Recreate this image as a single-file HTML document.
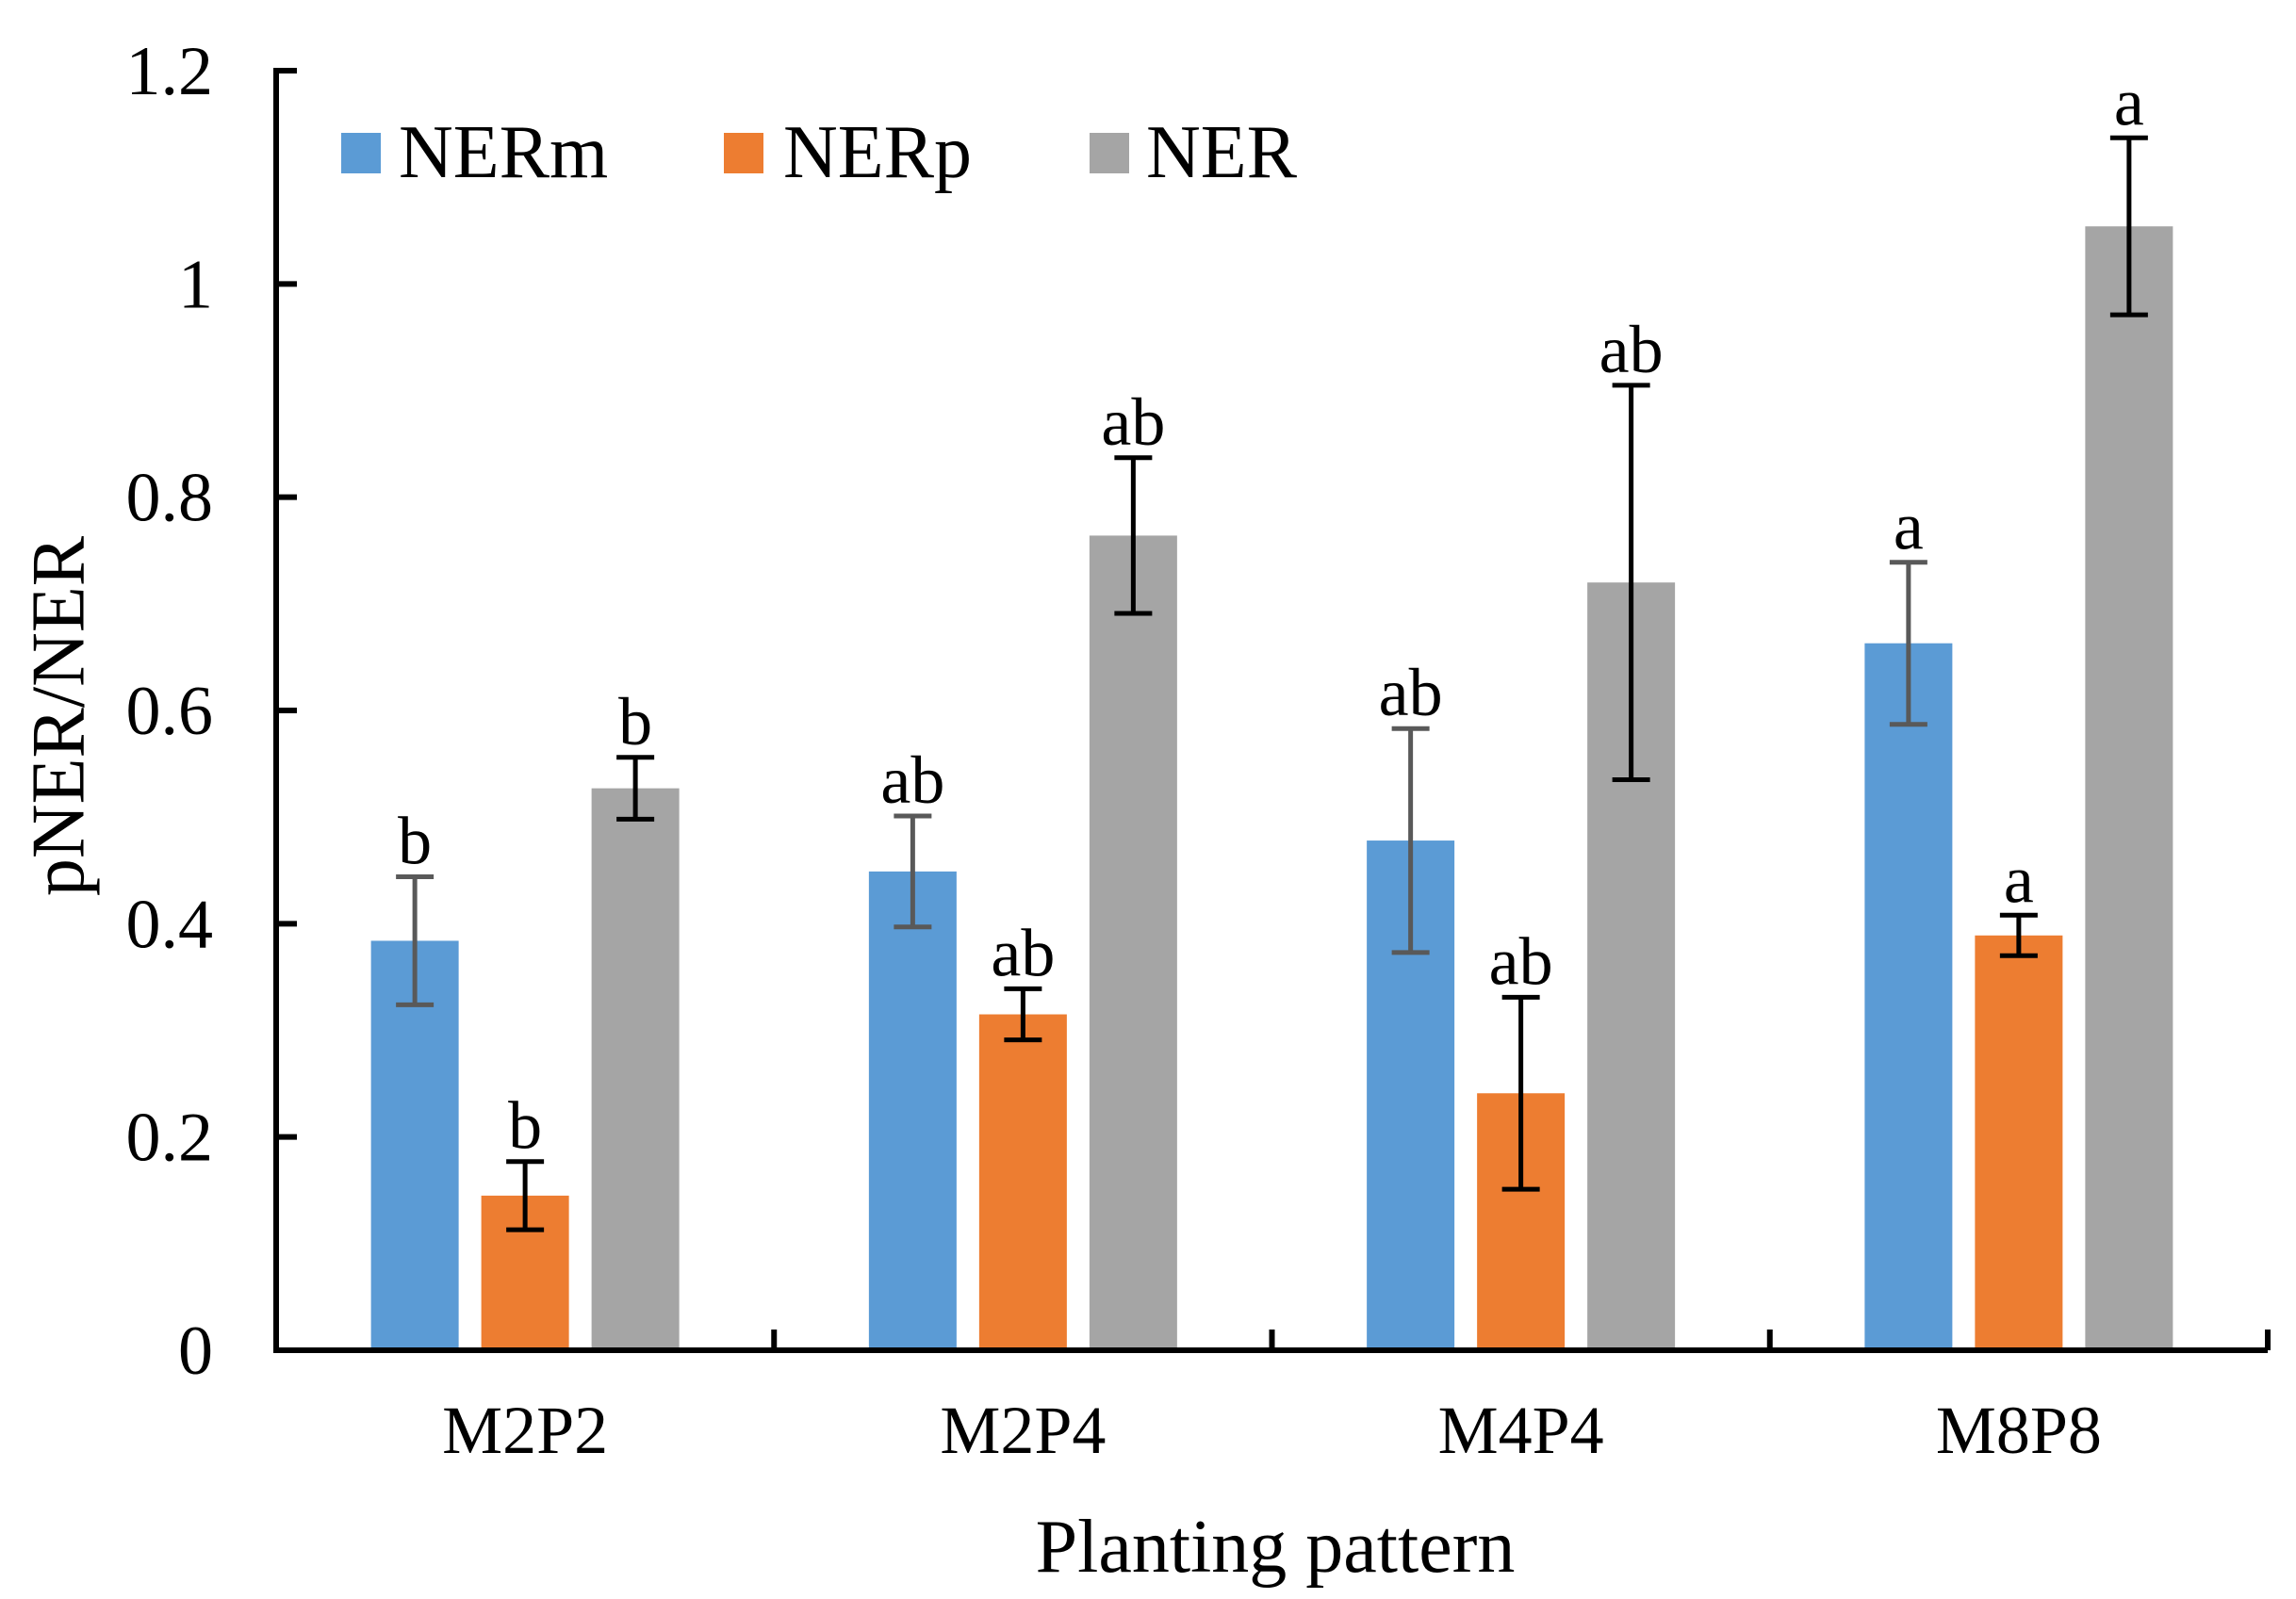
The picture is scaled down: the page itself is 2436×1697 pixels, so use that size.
<!DOCTYPE html>
<html><head><meta charset="utf-8"><style>
body{margin:0;background:#fff}
svg{display:block}
text{font-family:"Liberation Serif",serif;fill:#000}
</style></head><body>
<svg id="chart" width="2436" height="1697" viewBox="0 0 2436 1697">
<g id="bars"></g>
<g id="axes"></g>
<text x="70" y="760" font-size="80" text-anchor="middle" dominant-baseline="middle" transform="rotate(-90 70 760)">pNER/NER</text>
<text x="1353" y="1668" font-size="80" text-anchor="middle">Planting pattern</text>
<g>
<g><rect x="362" y="141" width="42" height="43" fill="#5b9bd5"/><text x="423" y="188" font-size="80">NERm</text></g>
<g><rect x="768" y="141" width="42" height="43" fill="#ed7d31"/><text x="831" y="188" font-size="80">NERp</text></g>
<g><rect x="1156" y="141" width="42" height="43" fill="#a5a5a5"/><text x="1216" y="188" font-size="80">NER</text></g>
</g>
</svg>
<script>
const categories = ["M2P2","M2P4","M4P4","M8P8"];
const seriesNames = ["NERm","NERp","NER"];
const nermValues = [0.384,0.449,0.478,0.663];
const nerpValues = [0.145,0.315,0.241,0.389];
const nerValues = [0.527,0.764,0.720,1.054];
const nermErr = [0.060,0.052,0.105,0.076];
const nerpErr = [0.032,0.024,0.090,0.019];
const nerErr = [0.029,0.073,0.185,0.083];
const nermLetters = ["b","ab","ab","a"];
const nerpLetters = ["b","ab","ab","a"];
const nerLetters = ["b","ab","ab","a"];
const yTicks = [0,0.2,0.4,0.6,0.8,1,1.2];
const yTickLabels = ["0","0.2","0.4","0.6","0.8","1","1.2"];

const NS="http://www.w3.org/2000/svg";
const x0=293, x1=2406, y0=1433, yTop=75, ymax=1.2;
const catW=(x1-x0)/categories.length;
function yScale(v){return y0-(v/ymax)*(y0-yTop);}
function catX(i){return x0+catW*i;}
const barW=93, gap=24;
function barX(i,s){return catX(i)+catW/2-(3*barW+2*gap)/2+s*(barW+gap);}
function mk(tag,attrs,parent){const e=document.createElementNS(NS,tag);for(const k in attrs)e.setAttribute(k,attrs[k]);parent.appendChild(e);return e;}
const bars=document.getElementById('bars'), axes=document.getElementById('axes');
const series=[
 {vals:nermValues,err:nermErr,let:nermLetters,color:"#5b9bd5",ec:"#595959",key:"nerm"},
 {vals:nerpValues,err:nerpErr,let:nerpLetters,color:"#ed7d31",ec:"#000",key:"nerp"},
 {vals:nerValues,err:nerErr,let:nerLetters,color:"#a5a5a5",ec:"#000",key:"ner"}];
series.forEach((s,si)=>{
 categories.forEach((c,i)=>{
  const bx=barX(i,si), v=s.vals[i], top=yScale(v);
  const r=mk('rect',{x:bx,y:top,width:barW,height:y0-top,fill:s.color},bars);
  
  
  const cx=bx+barW/2, et=yScale(v+s.err[i]), eb=yScale(v-s.err[i]);
  const g=mk('g',{stroke:s.ec,'stroke-width':5,fill:'none'},bars);
  
  
  mk('line',{x1:cx,y1:et,x2:cx,y2:eb},g);
  mk('line',{x1:cx-20,y1:et,x2:cx+20,y2:et},g);
  mk('line',{x1:cx-20,y1:eb,x2:cx+20,y2:eb},g);
  const t=mk('text',{x:cx,y:et-14,'font-size':72,'text-anchor':'middle'},bars);
  t.textContent=s.let[i];
  
  
 });
});
const ya=mk('line',{x1:x0,y1:yTop-3,x2:x0,y2:y0+3,stroke:'#000','stroke-width':6},axes);


const xa=mk('line',{x1:x0-3,y1:y0,x2:x1,y2:y0,stroke:'#000','stroke-width':6},axes);


yTicks.forEach((v,i)=>{
 const y=yScale(v);
 mk('line',{x1:x0,y1:y,x2:x0+22,y2:y,stroke:'#000','stroke-width':6},axes);
 const t=mk('text',{x:226,y:y+25,'font-size':74,'text-anchor':'end'},axes);
 t.textContent=yTickLabels[i];
 
 
});
for(let i=1;i<=categories.length;i++){
 mk('line',{x1:catX(i),y1:y0,x2:catX(i),y2:y0-22,stroke:'#000','stroke-width':6},axes);
}
categories.forEach((c,i)=>{
 const t=mk('text',{x:catX(i)+catW/2,y:1542,'font-size':72,'text-anchor':'middle'},axes);
 t.textContent=c;
 
 
});
</script>
</body></html>
